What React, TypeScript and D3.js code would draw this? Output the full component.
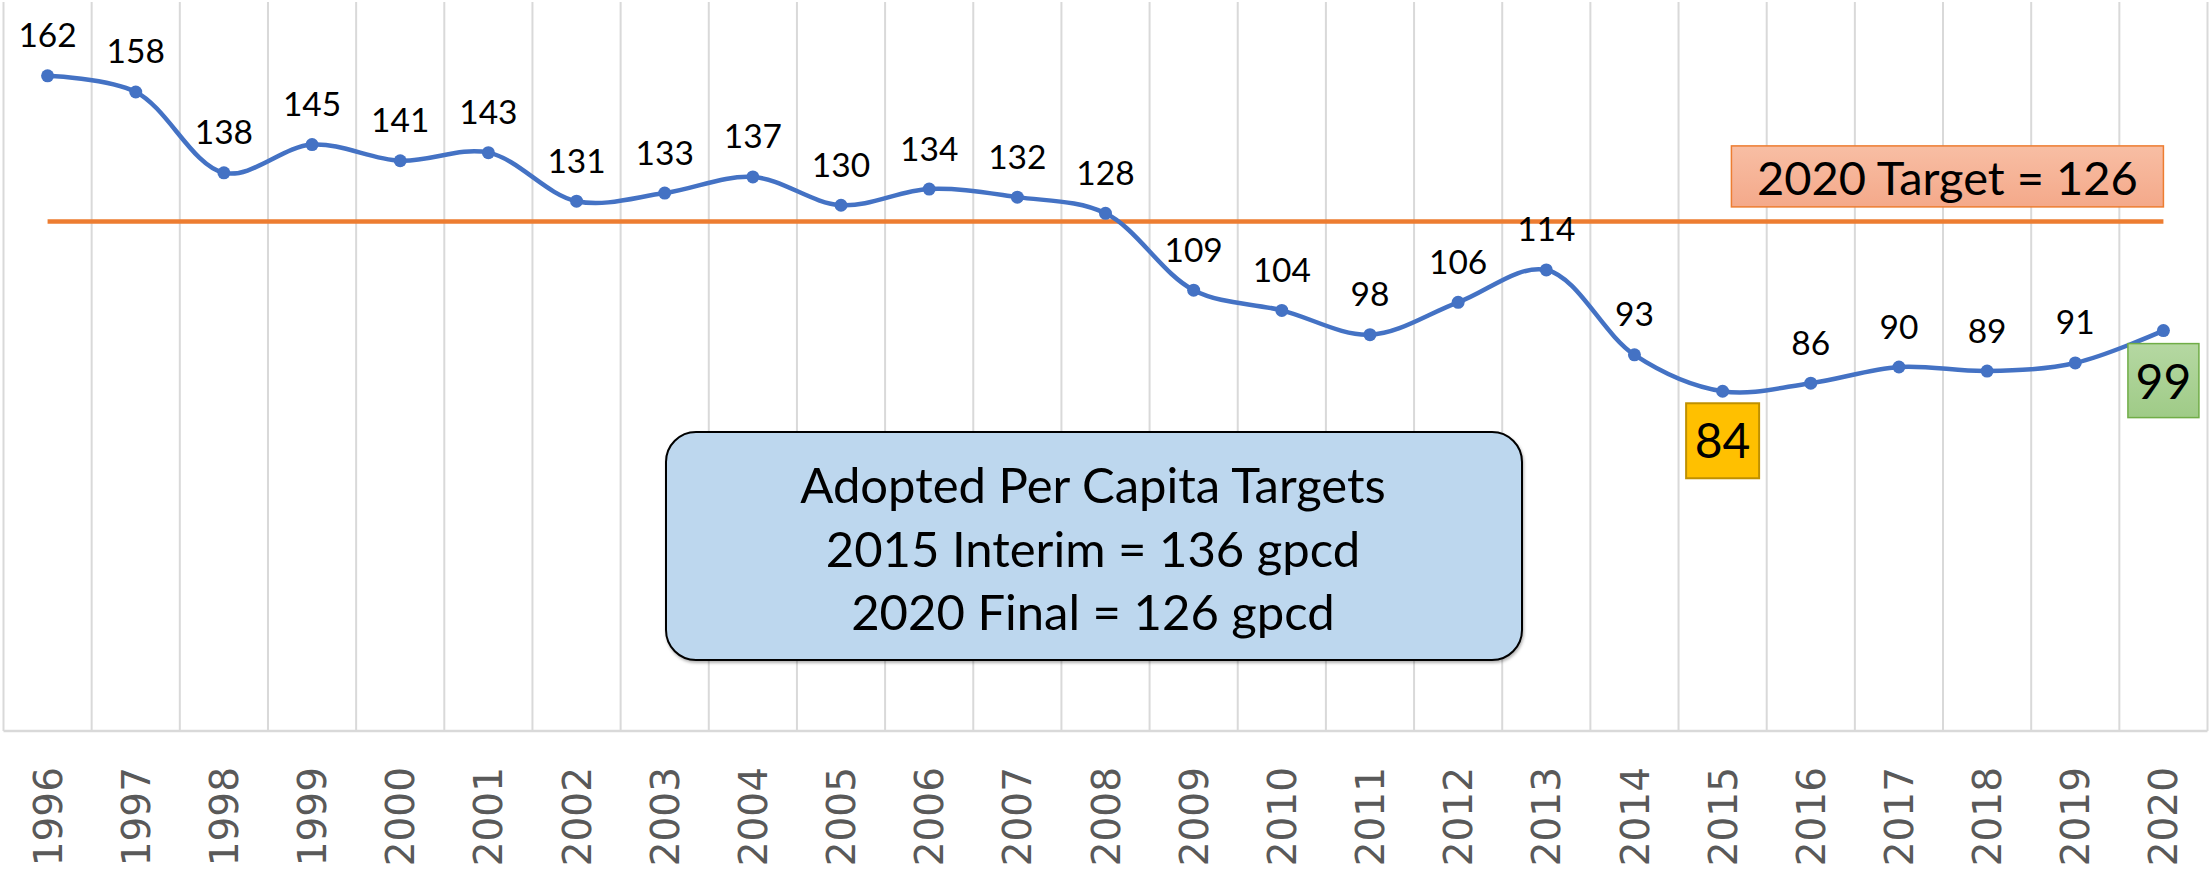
import React from 'react'
import * as d3 from 'd3'

// per capita water use (gpcd), 1996-2020
const years = [
  '1996', '1997', '1998', '1999', '2000', '2001', '2002', '2003', '2004',
  '2005', '2006', '2007', '2008', '2009', '2010', '2011', '2012', '2013',
  '2014', '2015', '2016', '2017', '2018', '2019', '2020'
]
const gpcd = [
  162, 158, 138, 145, 141, 143, 131, 133, 137, 130, 134, 132, 128,
  109, 104, 98, 106, 114, 93, 84, 86, 90, 89, 91, 99
]
const target = 126
const targetLabel = '2020 Target = 126'
const noteLines = [
  'Adopted Per Capita Targets',
  '2015 Interim = 136 gpcd',
  '2020 Final = 126 gpcd'
]
// years whose label sits in a coloured box under the point
const lowYear = '2015'
const lastYear = '2020'

const W = 2209
const H = 875
const margin = { top: 2, right: 1.5, bottom: 144, left: 3.5 }
const FONT = 'Lato, "Open Sans", sans-serif'

export default function App() {
  const x = d3.scaleBand<string>()
    .domain(years)
    .range([margin.left, W - margin.right])
    .padding(0)
  const y = d3.scaleLinear()
    .domain([0, 180])
    .range([H - margin.bottom - 0, margin.top + 1])

  const cx = (yr: string) => (x(yr) as number) + x.bandwidth() / 2
  const bottom = H - margin.bottom

  const data = years.map((yr, i) => ({ yr, v: gpcd[i] }))

  const line = d3.line<{ yr: string; v: number }>()
    .x(d => cx(d.yr))
    .y(d => y(d.v))
    .curve(d3.curveCatmullRom.alpha(0.5))

  const gridXs = years.map(yr => x(yr) as number).concat([W - margin.right])

  const tY = y(target)
  const tRight = cx(lastYear)
  const tBox = { w: 432, h: 61 }

  const lowV = gpcd[years.indexOf(lowYear)]
  const lastV = gpcd[years.indexOf(lastYear)]

  return (
    <svg width={W} height={H} style={{ position: 'absolute', left: 0, top: 0, background: '#fff' }}>
      <defs>
        <linearGradient id="salmon" x1="0" y1="0" x2="0" y2="1">
          <stop offset="0%" stopColor="#F8BEA4" />
          <stop offset="100%" stopColor="#F4A98A" />
        </linearGradient>
        <linearGradient id="green" x1="0" y1="0" x2="0" y2="1">
          <stop offset="0%" stopColor="#B5D8A2" />
          <stop offset="100%" stopColor="#9FCB87" />
        </linearGradient>
        <filter id="shadow" x="-5%" y="-5%" width="110%" height="115%">
          <feDropShadow dx="1" dy="2" stdDeviation="1.5" floodColor="#000" floodOpacity="0.3" />
        </filter>
      </defs>

      {/* vertical gridlines */}
      {gridXs.map((gx, i) => (
        <line key={i} x1={gx} x2={gx} y1={margin.top} y2={bottom} stroke="#D9D9D9" strokeWidth={2} />
      ))}
      <line x1={margin.left} x2={W - margin.right} y1={bottom} y2={bottom} stroke="#D9D9D9" strokeWidth={2.5} />

      {/* x axis labels */}
      {years.map(yr => (
        <text
          key={yr}
          transform={`translate(${cx(yr)},${bottom + 36}) rotate(-90)`}
          textAnchor="end"
          dy="0.36em"
          fontFamily='"DejaVu Sans", sans-serif'
          fontSize={39}
          fill="#595959"
        >
          {yr}
        </text>
      ))}

      {/* target line */}
      <line x1={cx(years[0])} x2={cx(lastYear)} y1={tY} y2={tY} stroke="#ED7D31" strokeWidth={4.5} />

      {/* target label */}
      <rect
        x={tRight - tBox.w}
        y={tY - 14.5 - tBox.h}
        width={tBox.w}
        height={tBox.h}
        fill="url(#salmon)"
        stroke="#ED7D31"
        strokeWidth={1.5}
      />
      <text
        x={tRight - tBox.w / 2}
        y={tY - 26.5}
        textAnchor="middle"
        fontFamily={FONT}
        fontSize={47}
        fill="#000"
      >
        {targetLabel}
      </text>

      {/* series */}
      <path d={line(data) || ''} fill="none" stroke="#4472C4" strokeWidth={4.5} strokeLinejoin="round" />
      {data.map(d => (
        <circle key={d.yr} cx={cx(d.yr)} cy={y(d.v)} r={6.5} fill="#4472C4" />
      ))}

      {/* data labels */}
      {data.filter(d => d.yr !== lowYear && d.yr !== lastYear).map(d => (
        <text
          key={d.yr}
          x={cx(d.yr)}
          y={y(d.v) - 28.5}
          textAnchor="middle"
          fontFamily={FONT}
          fontSize={33.5}
          fill="#000"
        >
          {d.v}
        </text>
      ))}

      {/* boxed labels */}
      <rect x={cx(lowYear) - 36.5} y={y(lowV) + 12} width={73} height={75} fill="#FFC000" stroke="#BF9000" strokeWidth={2} />
      <text x={cx(lowYear)} y={y(lowV) + 12 + 55} textAnchor="middle" fontFamily={FONT} fontSize={48} fill="#000">
        {lowV}
      </text>
      <rect x={cx(lastYear) - 35.5} y={y(lastV) + 13} width={71} height={74} fill="url(#green)" stroke="#70AD47" strokeWidth={1.5} />
      <text x={cx(lastYear)} y={y(lastV) + 13 + 55} textAnchor="middle" fontFamily={FONT} fontSize={48} fill="#000">
        {lastV}
      </text>

      {/* note box */}
      <g filter="url(#shadow)">
        <rect x={666} y={432} width={856} height={228} rx={30} fill="#BDD7EE" stroke="#000" strokeWidth={2} />
      </g>
      {noteLines.map((t, i) => (
        <text
          key={i}
          x={1093}
          y={503 + i * 63.7}
          textAnchor="middle"
          fontFamily={FONT}
          fontSize={49}
          fill="#000"
        >
          {t}
        </text>
      ))}
    </svg>
  )
}
